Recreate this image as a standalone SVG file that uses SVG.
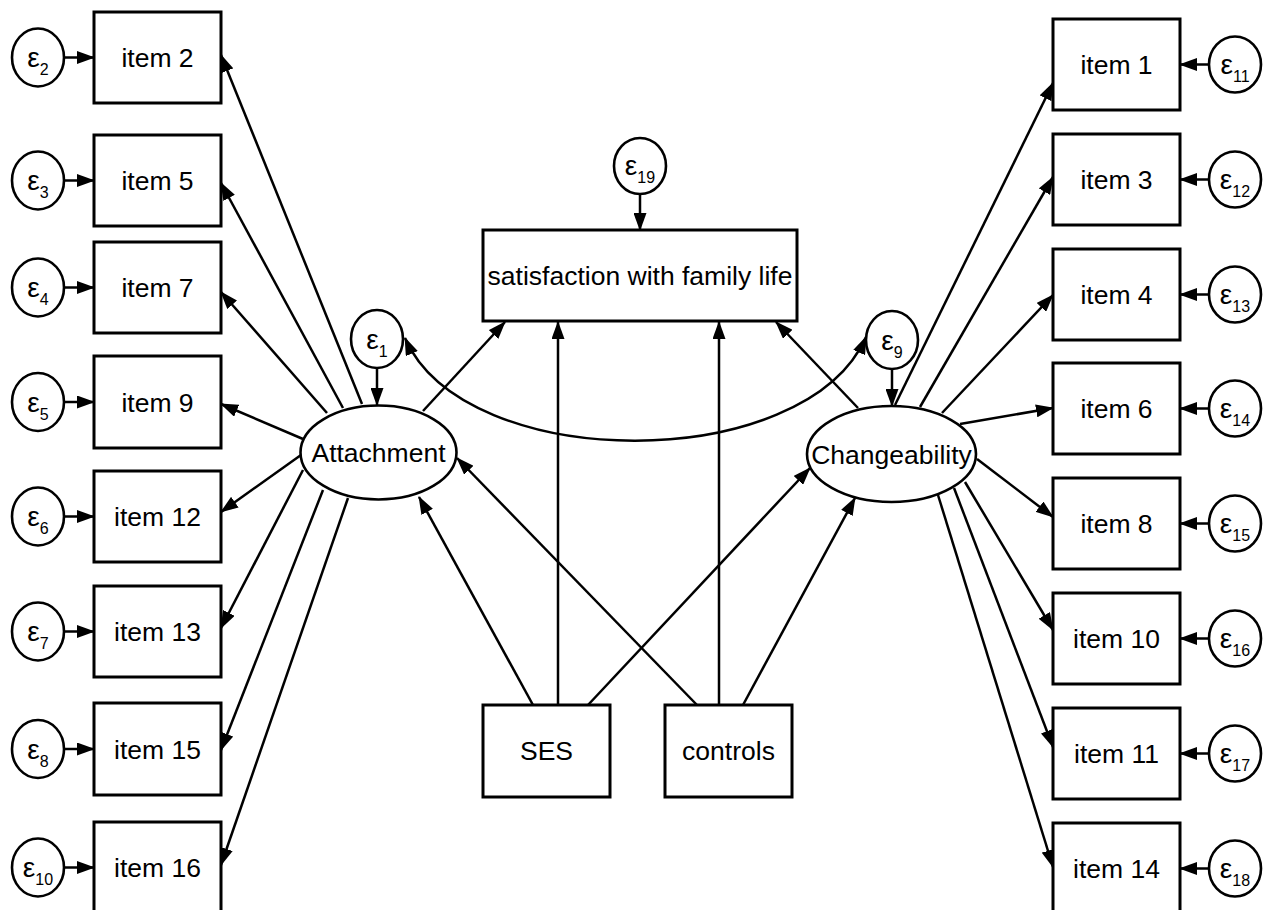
<svg xmlns="http://www.w3.org/2000/svg" width="1266" height="910" viewBox="0 0 1266 910">
<style>
text{font-family:"Liberation Sans",Arial,sans-serif;fill:#000}
.box{fill:#fff;stroke:#000;stroke-width:3}
.ell{fill:#fff;stroke:#000;stroke-width:2.6}
.lbl{font-size:26.5px;text-anchor:middle}
.eps{font-size:28px;text-anchor:middle}
.sub{font-size:16px}
.c{stroke:#000;stroke-width:2.5;fill:none;marker-end:url(#ah)}
</style>
<defs>
<marker id="ah" viewBox="0 0 18 13" markerWidth="18" markerHeight="13" refX="17" refY="6.5" orient="auto-start-reverse" markerUnits="userSpaceOnUse">
<path d="M0,0 L18,6.5 L0,13 z" fill="#000"/>
</marker>
</defs>
<rect width="1266" height="910" fill="#fff"/>
<g id="connectors">
<path class="c" d="M64,57.5 L94,57.5"/>
<path class="c" d="M64,180.5 L94,180.5"/>
<path class="c" d="M64,287.5 L94,287.5"/>
<path class="c" d="M64,402 L94,402"/>
<path class="c" d="M64,516.5 L94,516.5"/>
<path class="c" d="M64,631.5 L94,631.5"/>
<path class="c" d="M64,749 L94,749"/>
<path class="c" d="M64,867.5 L94,867.5"/>
<path class="c" d="M1209,64.5 L1180,64.5"/>
<path class="c" d="M1209,179.5 L1180,179.5"/>
<path class="c" d="M1209,294.5 L1180,294.5"/>
<path class="c" d="M1209,408.5 L1180,408.5"/>
<path class="c" d="M1209,523.5 L1180,523.5"/>
<path class="c" d="M1209,638.5 L1180,638.5"/>
<path class="c" d="M1209,753.5 L1180,753.5"/>
<path class="c" d="M1209,868.5 L1180,868.5"/>
<path class="c" d="M377,368 L377,405"/>
<path class="c" d="M892,369 L892,406"/>
<path class="c" d="M640,194 L640,230"/>
<path class="c" d="M362,404 L221,55"/>
<path class="c" d="M343,408 L221,183"/>
<path class="c" d="M327,413 L221,292"/>
<path class="c" d="M303,439 L221,404"/>
<path class="c" d="M301,455 L221,512"/>
<path class="c" d="M303,470 L221,628"/>
<path class="c" d="M323,490 L221,750"/>
<path class="c" d="M348,498 L221,865"/>
<path class="c" d="M895,405 L1053,83"/>
<path class="c" d="M920,407 L1053,177"/>
<path class="c" d="M942,413 L1053,295"/>
<path class="c" d="M960,424 L1053,408"/>
<path class="c" d="M977,459 L1053,517"/>
<path class="c" d="M965,482 L1053,630"/>
<path class="c" d="M954,488 L1053,747"/>
<path class="c" d="M938,495 L1053,867"/>
<path class="c" d="M423,411 L505,322"/>
<path class="c" d="M858,408 L776,322"/>
<path class="c" d="M533,705 L419,497"/>
<path class="c" d="M558,705 L558,322"/>
<path class="c" d="M588,705 L810,468"/>
<path class="c" d="M697,705 L457,458"/>
<path class="c" d="M719,705 L719,322"/>
<path class="c" d="M743,705 L855,498"/>
<path class="c" style="marker-start:url(#ah)" d="M405,338 C465,475 805,475 866,337"/>
</g>
<g id="item2"><rect class="box" x="94" y="12" width="127" height="91"/><text class="lbl" x="157.5" y="67">item 2</text></g>
<g id="item5"><rect class="box" x="94" y="135" width="127" height="91"/><text class="lbl" x="157.5" y="190">item 5</text></g>
<g id="item7"><rect class="box" x="94" y="242" width="127" height="91"/><text class="lbl" x="157.5" y="297">item 7</text></g>
<g id="item9"><rect class="box" x="94" y="356" width="127" height="92"/><text class="lbl" x="157.5" y="411.5">item 9</text></g>
<g id="item12"><rect class="box" x="94" y="471" width="127" height="91"/><text class="lbl" x="157.5" y="526">item 12</text></g>
<g id="item13"><rect class="box" x="94" y="586" width="127" height="91"/><text class="lbl" x="157.5" y="641">item 13</text></g>
<g id="item15"><rect class="box" x="94" y="703" width="127" height="92"/><text class="lbl" x="157.5" y="758.5">item 15</text></g>
<g id="item16"><rect class="box" x="94" y="822" width="127" height="91"/><text class="lbl" x="157.5" y="877">item 16</text></g>
<g id="e2"><ellipse class="ell" cx="38" cy="57.5" rx="26" ry="29"/><text class="eps" x="38" y="67">ε<tspan class="sub" dy="8">2</tspan></text></g>
<g id="e3"><ellipse class="ell" cx="38" cy="180.5" rx="26" ry="29"/><text class="eps" x="38" y="190">ε<tspan class="sub" dy="8">3</tspan></text></g>
<g id="e4"><ellipse class="ell" cx="38" cy="287.5" rx="26" ry="29"/><text class="eps" x="38" y="297">ε<tspan class="sub" dy="8">4</tspan></text></g>
<g id="e5"><ellipse class="ell" cx="38" cy="402" rx="26" ry="29"/><text class="eps" x="38" y="411.5">ε<tspan class="sub" dy="8">5</tspan></text></g>
<g id="e6"><ellipse class="ell" cx="38" cy="516.5" rx="26" ry="29"/><text class="eps" x="38" y="526">ε<tspan class="sub" dy="8">6</tspan></text></g>
<g id="e7"><ellipse class="ell" cx="38" cy="631.5" rx="26" ry="29"/><text class="eps" x="38" y="641">ε<tspan class="sub" dy="8">7</tspan></text></g>
<g id="e8"><ellipse class="ell" cx="38" cy="749" rx="26" ry="29"/><text class="eps" x="38" y="758.5">ε<tspan class="sub" dy="8">8</tspan></text></g>
<g id="e10"><ellipse class="ell" cx="38" cy="867.5" rx="26" ry="29"/><text class="eps" x="38" y="877">ε<tspan class="sub" dy="8">10</tspan></text></g>
<g id="item1"><rect class="box" x="1053" y="19" width="127" height="91"/><text class="lbl" x="1116.5" y="74">item 1</text></g>
<g id="item3"><rect class="box" x="1053" y="134" width="127" height="91"/><text class="lbl" x="1116.5" y="189">item 3</text></g>
<g id="item4"><rect class="box" x="1053" y="249" width="127" height="91"/><text class="lbl" x="1116.5" y="304">item 4</text></g>
<g id="item6"><rect class="box" x="1053" y="363" width="127" height="91"/><text class="lbl" x="1116.5" y="418">item 6</text></g>
<g id="item8"><rect class="box" x="1053" y="478" width="127" height="91"/><text class="lbl" x="1116.5" y="533">item 8</text></g>
<g id="item10"><rect class="box" x="1053" y="593" width="127" height="91"/><text class="lbl" x="1116.5" y="648">item 10</text></g>
<g id="item11"><rect class="box" x="1053" y="708" width="127" height="91"/><text class="lbl" x="1116.5" y="763">item 11</text></g>
<g id="item14"><rect class="box" x="1053" y="823" width="127" height="91"/><text class="lbl" x="1116.5" y="878">item 14</text></g>
<g id="e11"><ellipse class="ell" cx="1235" cy="64.5" rx="26" ry="28"/><text class="eps" x="1235" y="74">ε<tspan class="sub" dy="8">11</tspan></text></g>
<g id="e12"><ellipse class="ell" cx="1235" cy="179.5" rx="26" ry="28"/><text class="eps" x="1235" y="189">ε<tspan class="sub" dy="8">12</tspan></text></g>
<g id="e13"><ellipse class="ell" cx="1235" cy="294.5" rx="26" ry="28"/><text class="eps" x="1235" y="304">ε<tspan class="sub" dy="8">13</tspan></text></g>
<g id="e14"><ellipse class="ell" cx="1235" cy="408.5" rx="26" ry="28"/><text class="eps" x="1235" y="418">ε<tspan class="sub" dy="8">14</tspan></text></g>
<g id="e15"><ellipse class="ell" cx="1235" cy="523.5" rx="26" ry="28"/><text class="eps" x="1235" y="533">ε<tspan class="sub" dy="8">15</tspan></text></g>
<g id="e16"><ellipse class="ell" cx="1235" cy="638.5" rx="26" ry="28"/><text class="eps" x="1235" y="648">ε<tspan class="sub" dy="8">16</tspan></text></g>
<g id="e17"><ellipse class="ell" cx="1235" cy="753.5" rx="26" ry="28"/><text class="eps" x="1235" y="763">ε<tspan class="sub" dy="8">17</tspan></text></g>
<g id="e18"><ellipse class="ell" cx="1235" cy="868.5" rx="26" ry="28"/><text class="eps" x="1235" y="878">ε<tspan class="sub" dy="8">18</tspan></text></g>
<g id="satisfaction"><rect class="box" x="483" y="230" width="314" height="91"/><text class="lbl" x="640" y="285">satisfaction with family life</text></g>
<g id="e19"><ellipse class="ell" cx="640" cy="166" rx="26" ry="28"/><text class="eps" x="640" y="175">ε<tspan class="sub" dy="8">19</tspan></text></g>
<g id="e1"><ellipse class="ell" cx="377" cy="339" rx="26" ry="29"/><text class="eps" x="377" y="348.5">ε<tspan class="sub" dy="8">1</tspan></text></g>
<g id="e9"><ellipse class="ell" cx="892" cy="340" rx="26" ry="29"/><text class="eps" x="892" y="349.5">ε<tspan class="sub" dy="8">9</tspan></text></g>
<g id="attachment"><ellipse class="ell" cx="378.5" cy="452.5" rx="78" ry="47"/><text class="lbl" x="378.5" y="462">Attachment</text></g>
<g id="changeability"><ellipse class="ell" cx="891.5" cy="454" rx="84.5" ry="48"/><text class="lbl" x="891.5" y="463.5">Changeability</text></g>
<g id="ses"><rect class="box" x="483" y="705" width="127" height="92"/><text class="lbl" x="546.5" y="760">SES</text></g>
<g id="controls"><rect class="box" x="665" y="705" width="127" height="92"/><text class="lbl" x="728.5" y="760">controls</text></g>
</svg>
